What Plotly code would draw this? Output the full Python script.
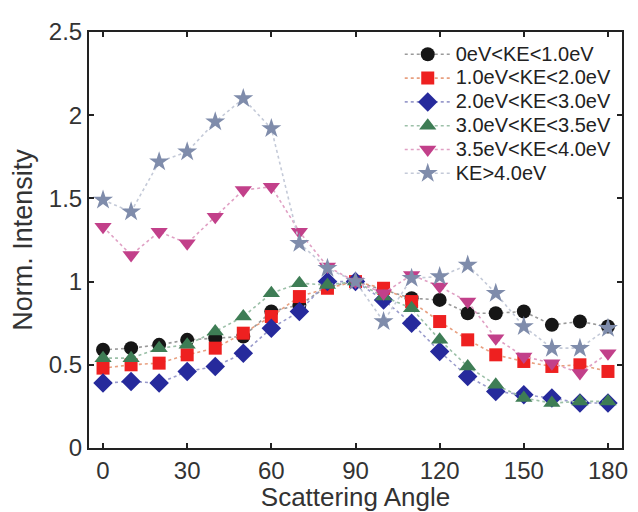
import plotly.graph_objects as go

angles = [0, 10, 20, 30, 40, 50, 60, 70, 80, 90, 100, 110, 120, 130, 140, 150, 160, 170, 180]

ke_0_1 = [0.59, 0.60, 0.62, 0.65, 0.66, 0.67, 0.82, 0.86, 0.97, 1.00, 0.95, 0.90, 0.89, 0.81, 0.81, 0.82, 0.74, 0.76, 0.73]
ke_1_2 = [0.48, 0.50, 0.51, 0.56, 0.60, 0.69, 0.79, 0.91, 0.96, 1.00, 0.96, 0.88, 0.76, 0.65, 0.56, 0.52, 0.49, 0.50, 0.46]
ke_2_3 = [0.39, 0.40, 0.39, 0.46, 0.49, 0.57, 0.72, 0.82, 1.00, 1.00, 0.89, 0.75, 0.58, 0.43, 0.34, 0.32, 0.30, 0.27, 0.27]
ke_3_35 = [0.54, 0.54, 0.60, 0.62, 0.70, 0.79, 0.93, 0.99, 0.98, 1.00, 0.91, 0.84, 0.65, 0.49, 0.38, 0.30, 0.27, 0.28, 0.28]
ke_35_4 = [1.33, 1.16, 1.30, 1.23, 1.39, 1.55, 1.57, 1.30, 1.09, 1.00, 0.93, 1.04, 0.97, 0.88, 0.66, 0.55, 0.51, 0.45, 0.57]
ke_gt4 = [1.49, 1.42, 1.72, 1.78, 1.96, 2.10, 1.92, 1.23, 1.08, 1.00, 0.76, 1.02, 1.03, 1.10, 0.93, 0.73, 0.60, 0.60, 0.72]

labels = ["0eV<KE<1.0eV", "1.0eV<KE<2.0eV", "2.0eV<KE<3.0eV",
          "3.0eV<KE<3.5eV", "3.5eV<KE<4.0eV", "KE>4.0eV"]
x_ticks = [0, 30, 60, 90, 120, 150, 180]
y_ticks = [0, 0.5, 1, 1.5, 2, 2.5]
y_tick_text = ["0", "0.5", "1", "1.5", "2", "2.5"]

series = [ke_0_1, ke_1_2, ke_2_3, ke_3_35, ke_35_4, ke_gt4]
marker_colors = ["#161616", "#ee2020", "#262a9c", "#3e7d55", "#c2408a", "#7f8cab"]
line_colors = ["#9a9a9a", "#e8a080", "#9a9ccc", "#9cc0a8", "#e0a0c4", "#c4cad8"]
symbols = ["circle", "square", "diamond", "triangle-up", "triangle-down", "star"]
sizes = [14, 13, 15, 15, 15, 15]

FONT = "Liberation Sans, Arial, sans-serif"

fig = go.Figure()
for lab, ys, mc, lc, sym, sz in zip(labels, series, marker_colors, line_colors, symbols, sizes):
    fig.add_trace(go.Scatter(
        x=angles, y=ys,
        name='<span style="font-size:20px">' + lab.replace("<", "&lt;").replace(">", "&gt;") + "</span>",
        mode="lines+markers",
        line=dict(color=lc, width=1.6, dash="dot"),
        marker=dict(symbol=sym, size=sz, color=mc, line=dict(width=0)),
    ))

tick_font = dict(family=FONT, size=24, color="#333333")
fig.update_layout(
    width=630, height=504,
    margin=dict(l=78, r=10, t=20, b=64),
    paper_bgcolor="white", plot_bgcolor="white",
    font=dict(family=FONT, size=20, color="#333333"),
    showlegend=True,
    legend=dict(x=0.583, y=0.987, xanchor="left", yanchor="top",
                font=dict(family=FONT, size=16, color="#222222"),
                itemwidth=46,
                bgcolor="rgba(255,255,255,0)", borderwidth=0, tracegroupgap=0),
)
fig.update_xaxes(
    range=[-5, 185], tickvals=x_ticks,
    tickfont=tick_font,
    ticks="inside", ticklen=5, tickwidth=2, tickcolor="#222222",
    showline=True, linecolor="#222222", linewidth=2, mirror="ticks",
    showgrid=False, zeroline=False,
    title=dict(text="Scattering Angle", font=dict(family=FONT, size=26, color="#333333"), standoff=0),
)
fig.update_yaxes(
    range=[0, 2.5], tickvals=y_ticks, ticktext=y_tick_text,
    tickfont=tick_font,
    ticks="inside", ticklen=5, tickwidth=2, tickcolor="#222222",
    showline=True, linecolor="#222222", linewidth=2, mirror="ticks",
    showgrid=False, zeroline=False,
    title=dict(text="Norm. Intensity", font=dict(family=FONT, size=27, color="#333333"), standoff=12),
)

fig.write_html("out.html")
